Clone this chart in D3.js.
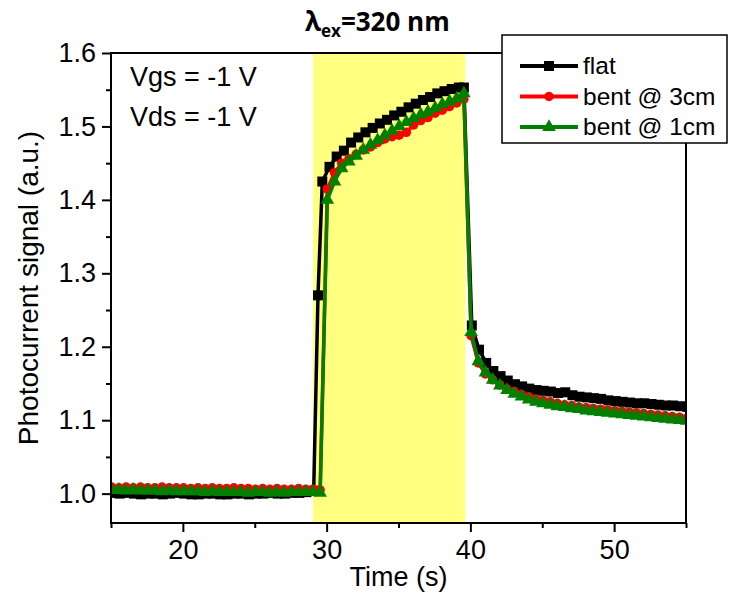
<!DOCTYPE html>
<html lang="en">
<head>
  <meta charset="UTF-8">
  <title>Photocurrent signal vs time</title>
  <script src="https://d3js.org/d3.v7.min.js"></script>
  <style>
    body { margin: 0; background: #fff; }
    text { font-family: "Liberation Sans", Arial, sans-serif; fill: #000; }
  </style>
</head>
<body>
  <svg id="chart"></svg>
  <script>
    // time axis (s) for each measurement
    const timeFlat = [15.1,15.6,16.1,16.6,17.1,17.6,18.1,18.6,19.1,19.6,20.1,20.6,21.1,21.6,22.1,22.6,23.1,23.6,24.1,24.6,25.1,25.6,26.1,26.6,27.1,27.6,28.1,28.6,29.1,
      29.4,29.7,
      30.2,30.7,31.2,31.7,32.2,32.7,33.2,33.7,34.2,34.7,35.2,35.7,36.2,36.7,37.2,37.7,38.2,38.7,39.2,
      39.55,
      40.1,40.6,41.1,41.6,42.1,42.6,43.1,43.6,44.1,44.6,45.1,45.6,46.1,46.6,47.1,47.6,48.1,48.6,49.1,49.6,50.1,50.6,51.1,51.6,52.1,52.6,53.1,53.6,54.1,54.6,55.1];
    const flat = [1.001,1.000,1.001,1.000,0.999,1.000,1.000,0.999,1.000,1.001,1.000,0.999,0.999,1.000,1.000,0.999,0.999,1.000,1.000,0.999,1.000,1.000,1.001,1.000,1.000,1.001,1.001,1.002,1.004,
      1.270,1.425,
      1.445,1.459,1.467,1.478,1.485,1.492,1.498,1.504,1.509,1.515,1.520,1.526,1.531,1.536,1.540,1.545,1.548,1.551,1.553,
      1.553,
      1.229,1.196,1.178,1.167,1.160,1.154,1.149,1.146,1.143,1.141,1.140,1.139,1.137,1.138,1.134,1.132,1.131,1.130,1.129,1.127,1.126,1.125,1.124,1.123,1.123,1.122,1.121,1.120,1.120,1.119,1.118];

    const timeBent = [15.05,15.55,16.05,16.55,17.05,17.55,18.05,18.55,19.05,19.55,20.05,20.55,21.05,21.55,22.05,22.55,23.05,23.55,24.05,24.55,25.05,25.55,26.05,26.55,27.05,27.55,28.05,28.55,29.05,29.55,
      30.05,30.55,31.05,31.55,32.05,32.55,33.05,33.55,34.05,34.55,35.05,35.55,36.05,36.55,37.05,37.55,38.05,38.55,39.05,39.55,
      40.05,40.55,41.05,41.55,42.05,42.55,43.05,43.55,44.05,44.55,45.05,45.55,46.05,46.55,47.05,47.55,48.05,48.55,49.05,49.55,50.05,50.55,51.05,51.55,52.05,52.55,53.05,53.55,54.05,54.55,55.05];
    const bent3 = [1.009,1.008,1.009,1.008,1.009,1.008,1.008,1.009,1.008,1.008,1.008,1.007,1.008,1.007,1.008,1.007,1.007,1.008,1.007,1.007,1.006,1.007,1.006,1.007,1.006,1.006,1.007,1.006,1.006,1.005,
      1.415,1.437,1.450,1.456,1.462,1.468,1.472,1.478,1.483,1.486,1.488,1.492,1.502,1.508,1.512,1.518,1.522,1.527,1.532,1.537,
      1.215,1.178,1.163,1.155,1.148,1.142,1.139,1.135,1.132,1.129,1.127,1.125,1.123,1.121,1.120,1.118,1.117,1.116,1.115,1.114,1.113,1.112,1.111,1.110,1.109,1.108,1.107,1.106,1.105,1.104,1.103];
    const bent1 = [1.005,1.005,1.004,1.005,1.004,1.004,1.004,1.003,1.004,1.003,1.003,1.003,1.003,1.002,1.003,1.002,1.002,1.002,1.002,1.001,1.002,1.002,1.001,1.002,1.001,1.002,1.002,1.002,1.002,1.001,
      1.400,1.425,1.443,1.452,1.460,1.468,1.475,1.481,1.488,1.494,1.500,1.506,1.511,1.516,1.520,1.525,1.530,1.534,1.538,1.545,
      1.220,1.180,1.165,1.155,1.147,1.141,1.136,1.132,1.128,1.125,1.123,1.121,1.119,1.118,1.116,1.115,1.113,1.112,1.111,1.110,1.109,1.108,1.107,1.106,1.105,1.104,1.103,1.102,1.101,1.100,1.099];

    const seriesNames = ["flat", "bent @ 3cm", "bent @ 1cm"];
    const lightOn = [29.05, 39.65];   // illumination window (s)
    const xTicks = [20, 30, 40, 50];
    const yTicks = [1.0, 1.1, 1.2, 1.3, 1.4, 1.5, 1.6];

    const width = 731, height = 596;
    const margin = { top: 53, right: 45, bottom: 73, left: 111 };

    const svg = d3.select("#chart").attr("width", width).attr("height", height);

    const x = d3.scaleLinear().domain([15, 55]).range([margin.left, width - margin.right]);
    const y = d3.scaleLinear().domain([0.96, 1.6]).range([height - margin.bottom, margin.top]);

    svg.append("defs").append("clipPath").attr("id", "plot-clip")
      .append("rect")
      .attr("x", x(15)).attr("y", y(1.6))
      .attr("width", x(55) - x(15)).attr("height", y(0.96) - y(1.6));

    // yellow band = light on
    svg.append("rect")
      .attr("x", x(lightOn[0])).attr("y", y(1.6))
      .attr("width", x(lightOn[1]) - x(lightOn[0]))
      .attr("height", y(0.96) - y(1.6))
      .attr("fill", "#ffff80");

    const series = [
      { name: seriesNames[0], t: timeFlat, v: flat, color: "#000000", symbol: d3.symbolSquare, size: 100 },
      { name: seriesNames[1], t: timeBent, v: bent3, color: "#ff0000", symbol: d3.symbolCircle, size: 70 },
      { name: seriesNames[2], t: timeBent, v: bent1, color: "#008000", symbol: d3.symbolTriangle, size: 80 }
    ];

    const line = d3.line().x(d => x(d[0])).y(d => y(d[1]));
    const plot = svg.append("g").attr("clip-path", "url(#plot-clip)");

    series.forEach(s => {
      const pts = s.t.map((t, i) => [t, s.v[i]]);
      plot.append("path")
        .datum(pts)
        .attr("d", line)
        .attr("fill", "none")
        .attr("stroke", s.color)
        .attr("stroke-width", 3.5)
        .attr("stroke-linejoin", "round");
      plot.selectAll(null)
        .data(pts)
        .enter()
        .append("path")
        .attr("d", d3.symbol().type(s.symbol).size(s.size))
        .attr("transform", d => `translate(${x(d[0])},${y(d[1])})`)
        .attr("fill", s.color);
    });

    // axes
    const xAxis = svg.append("g")
      .attr("transform", `translate(0,${y(0.96)})`)
      .call(d3.axisBottom(x).tickValues(xTicks).tickSize(9).tickSizeOuter(0).tickPadding(8).tickFormat(d3.format("d")));
    svg.append("g")
      .attr("transform", `translate(0,${y(0.96)})`)
      .call(d3.axisBottom(x).tickValues([15, 25, 35, 45, 55]).tickSize(5).tickSizeOuter(0).tickFormat(""));
    const yAxis = svg.append("g")
      .attr("transform", `translate(${x(15)},0)`)
      .call(d3.axisLeft(y).tickValues(yTicks).tickSize(9).tickSizeOuter(0).tickPadding(6).tickFormat(d3.format(".1f")));
    svg.append("g")
      .attr("transform", `translate(${x(15)},0)`)
      .call(d3.axisLeft(y).tickValues([1.05, 1.15, 1.25, 1.35, 1.45, 1.55]).tickSize(5).tickSizeOuter(0).tickFormat(""));

    svg.selectAll(".domain").remove();
    svg.selectAll(".tick line").attr("stroke", "#000").attr("stroke-width", 2);
    xAxis.selectAll("text").style("font-size", "27px").style("font-family", "'Liberation Sans', Arial, sans-serif");
    yAxis.selectAll("text").style("font-size", "27px").style("font-family", "'Liberation Sans', Arial, sans-serif");

    // frame
    svg.append("rect")
      .attr("x", x(15)).attr("y", y(1.6))
      .attr("width", x(55) - x(15)).attr("height", y(0.96) - y(1.6))
      .attr("fill", "none").attr("stroke", "#000").attr("stroke-width", 2);

    // axis titles
    svg.append("text")
      .attr("x", (x(15) + x(55)) / 2).attr("y", 586)
      .attr("text-anchor", "middle").style("font-size", "27px")
      .text("Time (s)");
    svg.append("text")
      .attr("transform", `translate(38,${(y(0.96) + y(1.6)) / 2}) rotate(-90)`)
      .attr("text-anchor", "middle").style("font-size", "28px")
      .text("Photocurrent signal (a.u.)");

    // title
    const title = svg.append("text")
      .attr("x", 305).attr("y", 31)
      .style("font-size", "26px").style("font-weight", "bold")
      .style("font-family", "'Open Sans', 'Liberation Sans', sans-serif");
    title.append("tspan").text("λ");
    title.append("tspan").attr("dy", 6).style("font-size", "17px").text("ex");
    title.append("tspan").attr("dy", -6).text("=320 nm");

    // bias annotations
    svg.append("text").attr("x", 130).attr("y", 86).style("font-size", "27px").text("Vgs = -1 V");
    svg.append("text").attr("x", 130).attr("y", 126).style("font-size", "27px").text("Vds = -1 V");

    // legend
    const legend = svg.append("g");
    legend.append("rect")
      .attr("x", 502).attr("y", 35).attr("width", 225).attr("height", 108)
      .attr("fill", "#fff").attr("stroke", "#000").attr("stroke-width", 1.5);
    series.forEach((s, i) => {
      const ly = 66 + i * 30.5;
      legend.append("line")
        .attr("x1", 520).attr("x2", 578).attr("y1", ly).attr("y2", ly)
        .attr("stroke", s.color).attr("stroke-width", 4);
      legend.append("path")
        .attr("d", d3.symbol().type(s.symbol).size(s.size))
        .attr("transform", `translate(549,${ly})`)
        .attr("fill", s.color);
      legend.append("text")
        .attr("x", 583).attr("y", ly + 8)
        .style("font-size", "24.5px")
        .text(s.name);
    });
  </script>
</body>
</html>
